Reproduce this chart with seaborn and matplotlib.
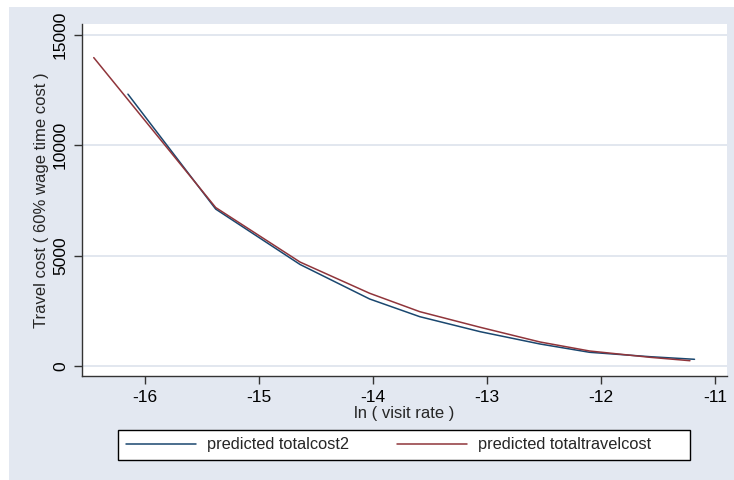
import matplotlib
matplotlib.use("Agg")
import matplotlib.pyplot as plt
import seaborn as sns
import pandas as pd
from matplotlib.patches import Rectangle
from matplotlib.lines import Line2D

# Data
ln_visit_cost2 = [-16.15, -15.38, -14.64, -14.03, -13.59, -13.06, -12.535, -12.10, -11.57, -11.18]
pred_totalcost2 = [12318, 7110, 4600, 3037, 2235, 1555, 997, 621, 422, 304]
ln_visit_travel = [-16.45, -15.38, -14.64, -14.03, -13.59, -13.06, -12.535, -12.10, -11.57, -11.22]
pred_totaltravelcost = [13975, 7180, 4710, 3296, 2462, 1754, 1088, 680, 394, 240]
series_names = ["predicted totalcost2", "predicted totaltravelcost"]
x_ticks = [-16, -15, -14, -13, -12, -11]
y_ticks = [0, 5000, 10000, 15000]

df = pd.concat([
    pd.DataFrame({"x": ln_visit_cost2, "y": pred_totalcost2, "series": series_names[0]}),
    pd.DataFrame({"x": ln_visit_travel, "y": pred_totaltravelcost, "series": series_names[1]}),
])

sns.set_theme(style="white")
plt.rcParams['font.family'] = ['Liberation Sans', 'DejaVu Sans']

W, H = 734, 480
fig = plt.figure(figsize=(W / 100, H / 100), dpi=100)
fig.patch.set_facecolor("white")
bg = "#e3e8f1"
fig.patches.append(Rectangle((9 / W, 0), 1 - 9 / W, 1 - 7 / H, transform=fig.transFigure,
                             facecolor=bg, edgecolor="none", zorder=-10))

ax = fig.add_axes([82 / W, 1 - 376 / H, (727 - 82) / W, (376 - 24) / H])
ax.set_facecolor("white")

palette = {series_names[0]: "#1a476f", series_names[1]: "#90353b"}
sns.lineplot(data=df, x="x", y="y", hue="series", palette=palette, sort=False,
             estimator=None, linewidth=1.1, ax=ax, legend=False)

ax.set_xlim(-16.553, -10.895)
ax.set_ylim(-453, 15498)
ax.set_xticks(x_ticks)
ax.set_yticks(y_ticks)
ax.set_xticklabels([str(t) for t in x_ticks], fontsize=12.5)
ax.set_yticklabels([str(t) for t in y_ticks], fontsize=12.5, rotation=90, va="center")

for v in y_ticks:
    ax.axhline(v, color="#dfe5ee", linewidth=1.3, zorder=0)

for s in ["top", "right"]:
    ax.spines[s].set_visible(False)
for s in ["left", "bottom"]:
    ax.spines[s].set_color("#333333")
    ax.spines[s].set_linewidth(1.0)
ax.tick_params(axis="both", which="major", direction="out", length=6, width=1.0,
               color="#333333", labelcolor="black", pad=4, bottom=True, left=True)

ax.set_xlabel("ln ( visit rate )", fontsize=12, labelpad=1)
ax.set_ylabel("Travel cost ( 60% wage time cost )", fontsize=12, labelpad=3)

# legend frame
fig.patches.append(Rectangle((118 / W, 1 - 460 / H), (690 - 118) / W, 30 / H,
                             transform=fig.transFigure, facecolor="white",
                             edgecolor="black", linewidth=1.0, zorder=5))
handles = [Line2D([], [], color=palette[n], linewidth=1.1) for n in series_names]
fs = 11.8
leg = fig.legend(handles, series_names, loc="center left",
                 bbox_to_anchor=(126 / W, 1 - 445 / H),
                 ncol=2, fontsize=fs, frameon=False,
                 handlelength=70 / (fs * 100 / 72), handletextpad=0.66,
                 columnspacing=2.95, borderpad=0, borderaxespad=0)
leg.set_zorder(6)

fig.savefig("out.png", dpi=100)
